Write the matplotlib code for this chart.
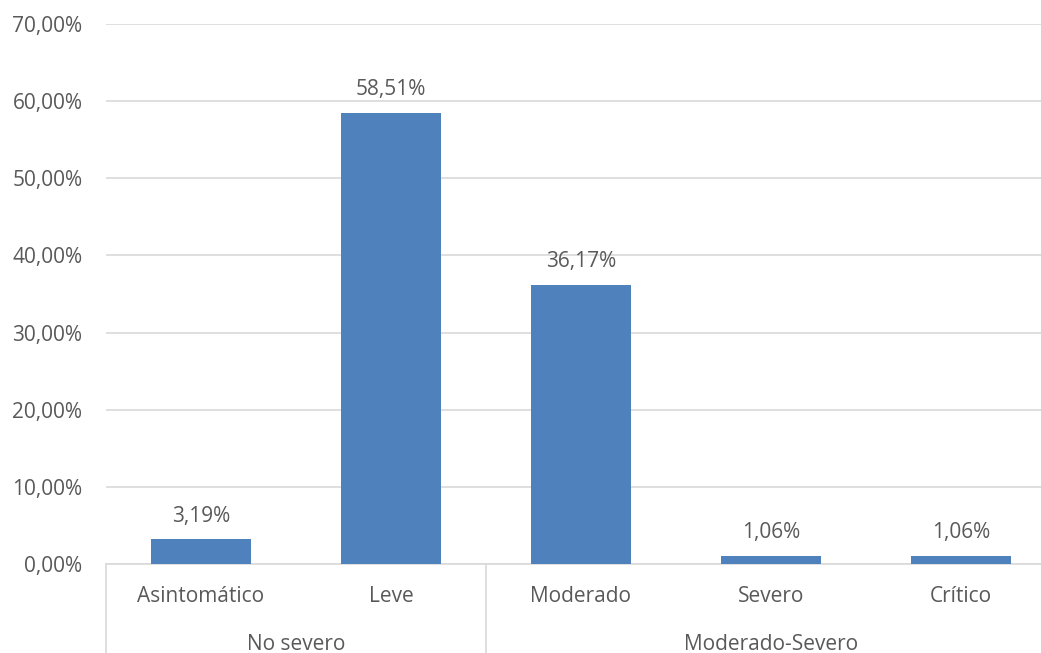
import matplotlib.pyplot as plt
import matplotlib.transforms as mtransforms
import numpy as np

plt.rcParams['font.family'] = ['Open Sans', 'DejaVu Sans']

categorias = ['Asintomático', 'Leve', 'Moderado', 'Severo', 'Crítico']
porcentajes = [3.19, 58.51, 36.17, 1.06, 1.06]
grupos = ['No severo', 'Moderado-Severo']
grupo_rango = [(0, 1), (2, 4)]
y_ticks = [0, 10, 20, 30, 40, 50, 60, 70]

texto = '#595959'
rejilla = '#d9d9d9'
azul = '#4f81bd'
fs = 15

fig = plt.figure(figsize=(10.41, 6.53), dpi=100)
# el área de trazado sobresale un poco por la derecha
ax = fig.add_axes([106 / 1041, 89 / 653, 950 / 1041, 540 / 653])

x = np.arange(len(categorias))
ax.bar(x, porcentajes, width=0.526, color=azul, zorder=3)

for xi, v in zip(x, porcentajes):
    ax.annotate(f'{v:.2f}'.replace('.', ',') + '%', (xi, v), xytext=(0, 9),
                textcoords='offset points', ha='center', va='bottom',
                fontsize=fs, color=texto)

ax.set_xlim(-0.5, len(categorias) - 0.5)
ax.set_ylim(0, 70)
ax.set_yticks(y_ticks)
ax.set_yticklabels([f'{t},00%' for t in y_ticks], fontsize=fs, color=texto)
ax.yaxis.grid(True, color=rejilla, linewidth=1.2, zorder=0)
ax.tick_params(axis='y', length=0, pad=17)

ax.set_xticks(x)
ax.set_xticklabels(categorias, fontsize=fs, color=texto)
ax.tick_params(axis='x', length=0, pad=16)

for lado in ['top', 'right', 'left']:
    ax.spines[lado].set_visible(False)
ax.spines['bottom'].set_color(rejilla)
ax.spines['bottom'].set_linewidth(1.2)

# etiquetas de grupo y separadores bajo el eje
trans = mtransforms.blended_transform_factory(ax.transData, ax.transAxes)
for (a, b), nombre in zip(grupo_rango, grupos):
    ax.text((a + b) / 2, -80 / 540, nombre, transform=trans, ha='center',
            va='center', fontsize=fs, color=texto)
for sx in [-0.5, 1.5, 4.5]:
    ax.plot([sx, sx], [0, -89 / 540], transform=trans, color=rejilla,
            linewidth=1.2, clip_on=False)

fig.savefig('out.png', dpi=100)
